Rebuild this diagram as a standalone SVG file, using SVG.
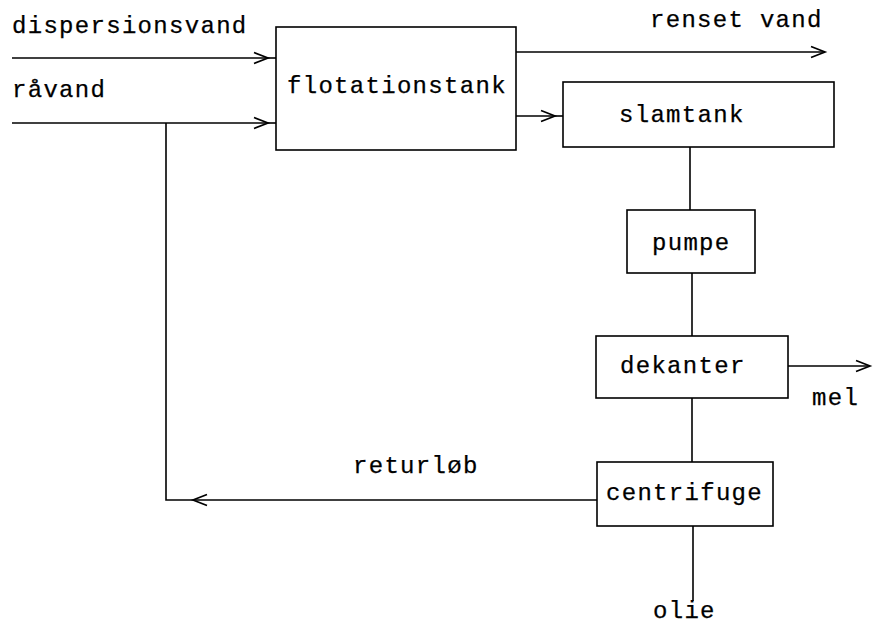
<svg xmlns="http://www.w3.org/2000/svg" width="873" height="627" viewBox="0 0 873 627">
<style>
text{font-family:"Liberation Mono","Courier New",monospace;font-size:24px;letter-spacing:1.3px;fill:#000;stroke:#000;stroke-width:0.25px}
.box{fill:#fff;stroke:#000;stroke-width:1.6}
.ln{fill:none;stroke:#000;stroke-width:1.6}
</style>
<defs>
<marker id="arr" markerUnits="userSpaceOnUse" markerWidth="20" markerHeight="16" viewBox="0 0 20 16" refX="15" refY="8" orient="auto">
<path d="M1,2.5 L15,8 L1,13.5" fill="none" stroke="#000" stroke-width="1.7"/>
</marker>
</defs>
<rect width="873" height="627" fill="#fff"/>
<g id="connectors">
<path class="ln" d="M12,58 H268" marker-end="url(#arr)"/>
<path class="ln" d="M268,58 H276"/>
<path class="ln" d="M12,123 H268" marker-end="url(#arr)"/>
<path class="ln" d="M268,123 H276"/>
<path class="ln" d="M516,52 H825" marker-end="url(#arr)"/>
<path class="ln" d="M516,116 H555" marker-end="url(#arr)"/>
<path class="ln" d="M555,116 H563"/>
<path class="ln" d="M690,147 V210"/>
<path class="ln" d="M692,273 V336"/>
<path class="ln" d="M788,366 H870" marker-end="url(#arr)"/>
<path class="ln" d="M692,398 V462"/>
<path class="ln" d="M597,500 H193" marker-end="url(#arr)"/>
<path class="ln" d="M193,500 H166 V123"/>
<path class="ln" d="M693,526 V601"/>
</g>
<g id="flotationstank"><rect class="box" x="276" y="27" width="240" height="123"/><text x="287" y="93">flotationstank</text></g>
<g id="slamtank"><rect class="box" x="563" y="82" width="271" height="65"/><text x="619" y="122">slamtank</text></g>
<g id="pumpe"><rect class="box" x="627" y="210" width="128" height="63"/><text x="652" y="250">pumpe</text></g>
<g id="dekanter"><rect class="box" x="596" y="336" width="192" height="62"/><text x="620" y="373">dekanter</text></g>
<g id="centrifuge"><rect class="box" x="597" y="462" width="176" height="64"/><text x="606" y="500">centrifuge</text></g>
<g id="labels">
<text x="12" y="33">dispersionsvand</text>
<text x="12" y="97">råvand</text>
<text x="650" y="27">renset vand</text>
<text x="812" y="405">mel</text>
<text x="353" y="473">returløb</text>
<text x="653" y="618">olie</text>
</g>
</svg>
